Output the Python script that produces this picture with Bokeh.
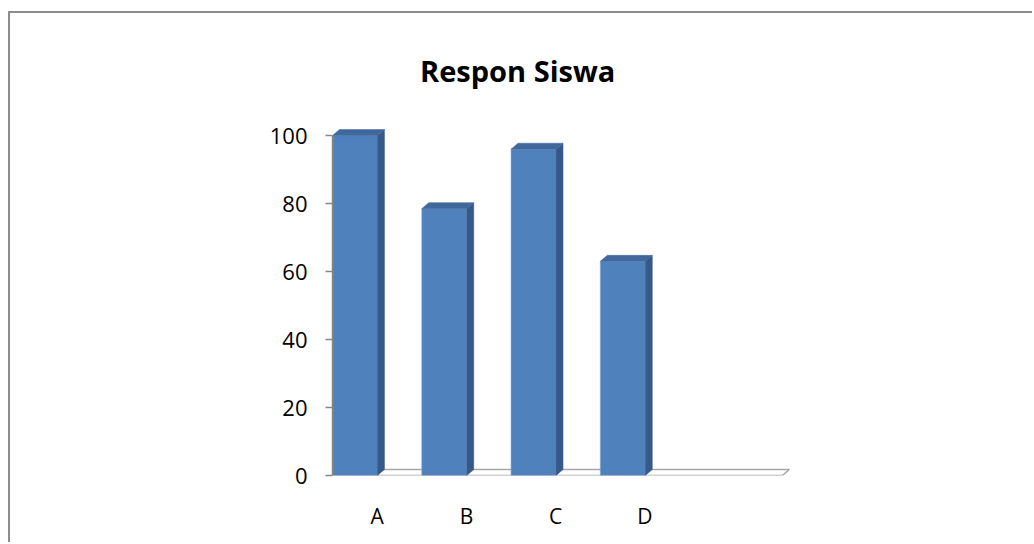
from bokeh.plotting import figure
from bokeh.models import Range1d, LinearAxis, FixedTicker
from bokeh.core.properties import value
from bokeh.embed import file_html
from bokeh.resources import INLINE

# ---- data ----
categories = ["A", "B", "C", "D"]
values = [100, 78.5, 96, 63]
n_slots = 5
y_ticks = [0, 20, 40, 60, 80, 100]
title_text = "Respon Siswa"

# ---- styling constants ----
bar_w = 0.504
dx = 0.078
dy = 1.76
front_color = "#4F81BD"
side_color = "#36598A"
top_color = "#41689C"
grey = "#868686"

p = figure(width=1024, height=531, output_backend="svg", toolbar_location=None,
           x_range=Range1d(0.5, 5.63), y_range=Range1d(0, 135.9),
           x_axis_type=None, y_axis_type=None,
           min_border_left=322, min_border_right=244,
           min_border_top=0, min_border_bottom=69)
p.outline_line_color = None
p.background_fill_color = "white"
p.border_fill_color = "white"
p.styles = {"border-left": "2px solid #8c8c8c", "border-top": "2px solid #8c8c8c",
            "margin-top": "11px", "margin-left": "8px"}

# floor
floor_end = 0.5 + n_slots + dx / 2
p.patch(x=[0.5, floor_end, floor_end + dx, 0.5 + dx], y=[0, 0, dy, dy],
        fill_color="white", line_color="#a6a6a6", line_width=1.5)

xpos = [i + 1 for i in range(len(categories))]
lefts = [x - 0.5 for x in xpos]
rights = [l + bar_w for l in lefts]

# front faces
p.quad(left=lefts, right=rights, bottom=0, top=values,
       fill_color=front_color, line_color="#7fa3d0", line_width=0.6)
# side faces
p.patches(xs=[[r, r + dx, r + dx, r] for r in rights],
          ys=[[0, dy, v + dy, v] for v in values],
          fill_color=side_color, line_color=side_color, line_width=0.5)
# top faces
p.patches(xs=[[l, r, r + dx, l + dx] for l, r in zip(lefts, rights)],
          ys=[[v, v, v + dy, v + dy] for v in values],
          fill_color=top_color, line_color=top_color, line_width=0.5)

yaxis = LinearAxis(ticker=FixedTicker(ticks=y_ticks), bounds=(0, 100),
                   axis_line_color=grey, axis_line_width=1.5,
                   major_tick_line_color=grey, major_tick_line_width=1.5,
                   major_tick_out=7, major_tick_in=0,
                   minor_tick_line_color=None,
                   major_label_text_font="Open Sans",
                   major_label_text_font_size="22px",
                   major_label_text_color="black",
                   major_label_standoff=18)
p.add_layout(yaxis, "left")

xaxis = LinearAxis(ticker=FixedTicker(ticks=xpos),
                   major_label_overrides={x: c for x, c in zip(xpos, categories)},
                   axis_line_color=None, major_tick_line_color=None,
                   minor_tick_line_color=None,
                   major_label_text_font="Open Sans",
                   major_label_text_font_size="21px",
                   major_label_text_color="black",
                   major_label_standoff=20)
p.add_layout(xaxis, "below")

# chart title
p.text(x=[2.574], y=[119.1], text=[title_text], text_align="center",
       text_baseline="middle", text_font=value("Open Sans"),
       text_font_style="bold", text_font_size="29px", text_color="black")

open("out.html", "w").write(file_html(p, INLINE))
